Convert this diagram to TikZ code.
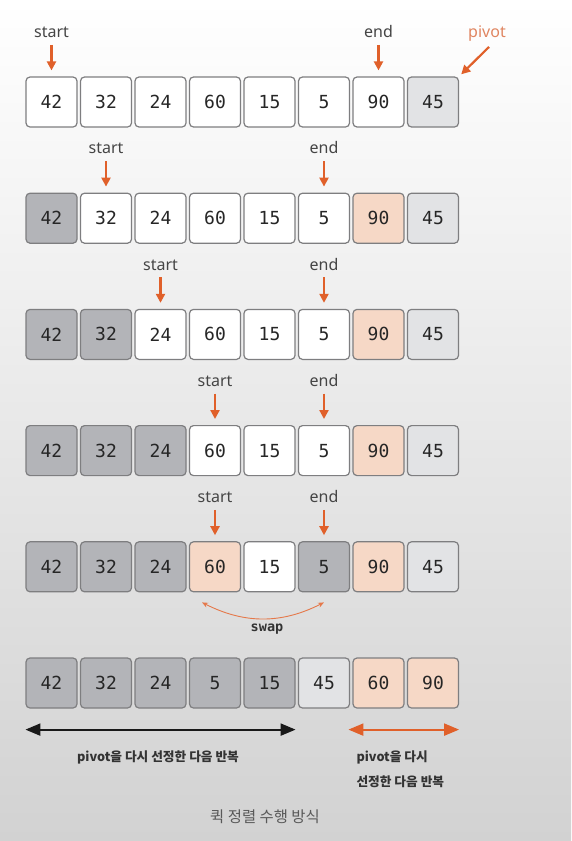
\documentclass[tikz,border=0pt]{standalone}
\usepackage{fontspec}
\setmainfont{Noto Sans}
\newfontfamily\cellfont{DejaVu Sans Mono}
\newfontfamily\krfont{Noto Sans CJK KR}
\usetikzlibrary{arrows.meta,positioning,calc}

\definecolor{boxline}{HTML}{7E7E80}
\definecolor{darkcell}{HTML}{B3B4B8}
\definecolor{pivotcell}{HTML}{E2E3E5}
\definecolor{peachcell}{HTML}{F6D8C6}
\definecolor{ptrorange}{HTML}{E0602A}
\definecolor{pivottext}{HTML}{E08560}
\definecolor{labgray}{HTML}{454545}
\definecolor{bgmid}{HTML}{F2F2F2}
\definecolor{bgbot}{HTML}{D2D2D2}

\tikzset{
  cell/.style={draw=boxline, line width=1.2pt, rounded corners=4pt,
    minimum width=51pt, minimum height=50pt, inner sep=0pt,
    font=\cellfont\fontsize{18}{18}\selectfont, text=black!85},
  cw/.style={cell, fill=white},
  cd/.style={cell, fill=darkcell},
  cl/.style={cell, fill=pivotcell},
  cp/.style={cell, fill=peachcell},
  ptrlabel/.style={font=\fontsize{16}{16}\selectfont, text=labgray,
    inner sep=1pt, text height=11.5pt, text depth=0pt},
  ptr/.style={draw=ptrorange, line width=2.2pt,
    -{Triangle[length=9pt,width=9pt]}, shorten <=6pt, shorten >=6pt},
  spanarrow/.style={line width=2pt, {Triangle[length=15pt,width=12pt]}-{Triangle[length=15pt,width=12pt]}},
  spantext/.style={font=\krfont\bfseries\fontsize{12.7}{25}\selectfont, text=black!80},
}

\begin{document}
\begin{tikzpicture}[x=1pt, y=-1pt]
    \useasboundingbox (0,0) rectangle (571,841);
    \shade[top color=white, middle color=bgmid, bottom color=bgbot] (0,0) rectangle (571,841);

    % rows of cells
    \foreach \row/\spec in {
        1/{cw/42,cw/32,cw/24,cw/60,cw/15,cw/5,cw/90,cl/45},
        2/{cd/42,cw/32,cw/24,cw/60,cw/15,cw/5,cp/90,cl/45},
        3/{cd/42,cd/32,cw/24,cw/60,cw/15,cw/5,cp/90,cl/45},
        4/{cd/42,cd/32,cd/24,cw/60,cw/15,cw/5,cp/90,cl/45},
        5/{cd/42,cd/32,cd/24,cp/60,cw/15,cd/5,cp/90,cl/45},
        6/{cd/42,cd/32,cd/24,cd/5,cd/15,cl/45,cp/60,cp/90}}
      \foreach \st/\val [count=\i] in \spec
        \node[\st] (c\row-\i) at ({51.5+54.5*(\i-1)}, {102+116.2*(\row-1)}) {\val};

    % start / end pointers
    \foreach \row/\s/\e in {1/1/7, 2/2/6, 3/3/6, 4/4/6, 5/4/6} {
        \node[ptrlabel] (s\row) at ([yshift=70pt]c\row-\s) {start};
        \node[ptrlabel] (e\row) at ([yshift=70pt]c\row-\e) {end};
        \draw[ptr] (s\row) -- (c\row-\s);
        \draw[ptr] (e\row) -- (c\row-\e);
    }

    % pivot
    \node[ptrlabel, text=pivottext] (pv) at (487,32) {pivot};
    \coordinate (pvtail) at ($(pv.south)+(2,8)$);
    \draw[ptr, shorten <=0pt, shorten >=3pt] (pvtail) -- (c1-8.north east);

    % swap
    \coordinate (sa) at ($(c5-4.south)+(-13,10)$);
    \coordinate (sb) at ($(c5-6.south)+(0,10)$);
    \draw[draw=ptrorange!85, line width=0.9pt, {Stealth[length=6pt,width=5pt]}-{Stealth[length=6pt,width=5pt]}] (sa) to[bend right=27] (sb);
    \node[font=\cellfont\bfseries\fontsize{13.5}{13.5}\selectfont, text=black!80] (sw) at (267,629) {swap};

    % next iterations
    \coordinate (la) at ($(c6-1.south west)+(0,21)$);
    \coordinate (lb) at ($(c6-5.south east)+(0,21)$);
    \coordinate (ra) at ($(c6-7.south west)+(-4,21)$);
    \coordinate (rb) at ($(c6-8.south east)+(0,21)$);
    \draw[spanarrow, black!90] (la) -- (lb);
    \draw[spanarrow, ptrorange] (ra) -- (rb);
    \node[spantext] (lt) at (158,757) {pivot을 다시 선정한 다음 반복};
    \node[spantext, anchor=west, align=left] (rt) at (353,769) {pivot을 다시\\선정한 다음 반복};

    \node[font=\krfont\fontsize{15.4}{15.4}\selectfont, text=black!65] (title) at (265,817) {퀵 정렬 수행 방식};
\end{tikzpicture}
\end{document}
